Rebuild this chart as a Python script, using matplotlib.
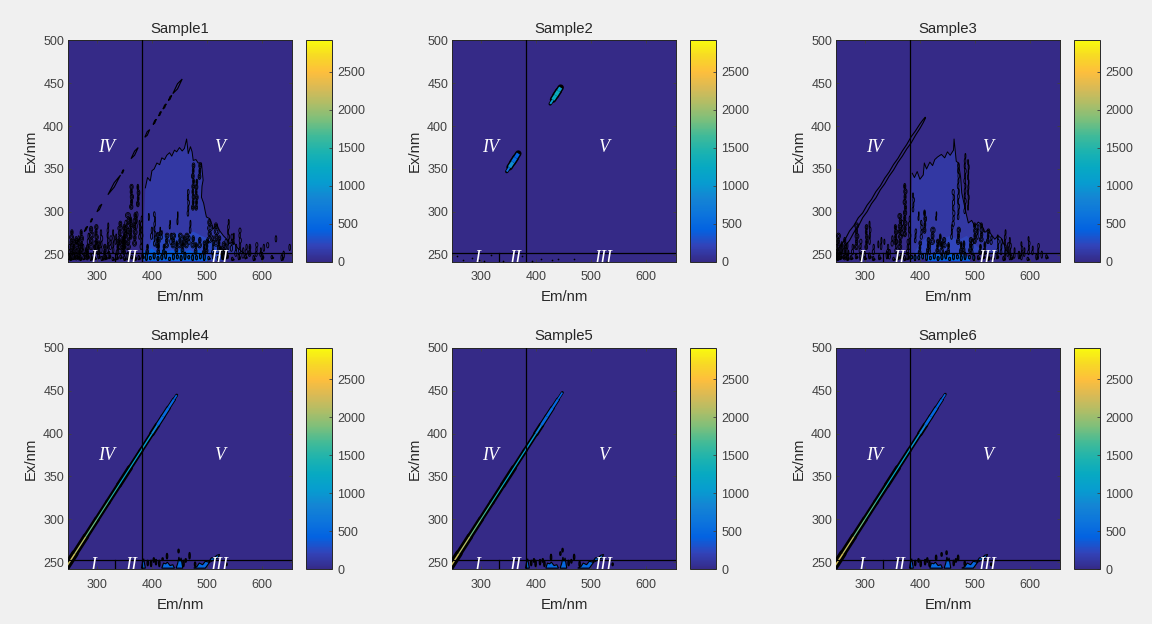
import matplotlib
matplotlib.use('Agg')
import matplotlib.pyplot as plt
from matplotlib.colors import LinearSegmentedColormap, Normalize
from matplotlib.cm import ScalarMappable
from matplotlib.collections import LineCollection
from matplotlib.patches import Ellipse
import numpy as np

plt.rcParams['font.family'] = ['Liberation Sans', 'DejaVu Sans']

W, H = 1152, 624
titles = ['Sample1', 'Sample2', 'Sample3', 'Sample4', 'Sample5', 'Sample6']
x_ticks = [300, 400, 500, 600]
y_ticks = [250, 300, 350, 400, 450, 500]
cbar_ticks = [0, 500, 1000, 1500, 2000, 2500]
parula = [(.2081,.1663,.5292),(.1959,.2645,.7279),(.0117,.3875,.8820),(.0498,.4586,.8641),
          (.0793,.5200,.8312),(.0265,.6137,.8135),(.0267,.6642,.7607),(.1133,.7015,.6859),
          (.2586,.7317,.5954),(.4871,.7491,.4840),(.6834,.7435,.4044),(.8507,.7299,.3360),
          (.9938,.7455,.2403),(.9697,.8481,.1475),(.9763,.9831,.0538)]
cmap = LinearSegmentedColormap.from_list('parula', parula, N=256)
norm = Normalize(0, 2910)

region_labels = [('IV', 318, 375), ('V', 522, 375), ('I', 293, 246), ('II', 362, 246), ('III', 522, 246)]

# hump polygons (Em, Ex) for samples 1 and 3
hump1_em = [383,388,392,397,400,404,409,414,418,423,427,432,436,441,445,450,455,459,463,466,470,473,475,480,484,490,493,491,490,494,497,499,505,512,518,523,530,536,541,548,555,561,565,383]
hump1_ex = [252,328,340,336,348,350,357,355,363,361,366,369,365,372,370,375,371,374,385,368,376,370,360,361,357,357,337,330,317,310,300,294,292,280,285,278,272,268,263,265,258,255,252,252]
hump3_em = [382,386,390,395,400,406,408,412,418,423,427,432,439,445,450,455,461,462,466,470,474,476,480,484,488,494,500,506,512,518,524,530,536,542,548,558,562,382]
hump3_ex = [252,345,340,347,338,343,357,350,358,354,361,364,367,363,370,366,372,385,359,357,340,322,310,298,287,290,283,288,285,276,279,273,268,272,269,254,252,252]
# second contour level inside the hump
mid1_em = [383,400,415,430,445,460,475,490,505,520,530,383]
mid1_ex = [243,268,275,272,276,270,277,272,268,262,243,243]
mid3_em = [383,398,412,426,440,455,470,485,500,515,383]
mid3_ex = [243,262,270,264,268,272,267,272,262,254,243]

# low-level bright patches near the bottom for samples 1 and 3
low1_em = [385,392,398,405,412,420,428,436,444,452,460,468,476,484,492,500]
low1_ex = [256,252,258,255,252,258,254,256,253,258,254,256,253,256,253,248]
low3_em = [410,420,430,438,447,455,464,472,480,490]
low3_ex = [248,250,252,249,251,253,250,252,249,248]

# contour islands: centre Em, lower Ex, upper Ex, Em width
s1_em = [254,263,272,290,299,308,320,330,342,357,369,363,375,381,405,427,439,451,463,475,487,466,475,487,481,505,517,539,560,578,590,611,626,651,
         418,433,447,458,470,350,314,283,268,395,415,530,549,258,275,296,338,350,392,412,445,495,525,
         250,267,280,285,303,325,335,347,352,362,372,378,400,410,422,435,456,468,480,500,511,522,534,545,553,566,572,598,604,640]
s1_lo = [244,244,252,256,256,252,252,252,256,256,260,303,306,256,260,258,258,258,258,258,258,295,302,338,302,264,260,256,252,248,248,258,265,255,
         268,280,285,262,275,262,244,244,244,290,272,245,262,250,250,250,250,250,250,250,252,250,250,
         244,262,248,262,250,256,262,252,270,268,280,268,268,258,250,262,252,262,250,252,250,255,250,254,248,246,250,248,254,246]
s1_hi = [279,271,279,283,285,279,287,279,289,299,299,332,332,295,300,275,275,275,275,272,270,326,357,357,338,291,287,291,281,262,264,264,272,262,
         278,290,300,272,290,285,262,262,262,298,282,265,275,268,262,266,268,272,262,270,266,266,260,
         262,272,258,275,266,272,274,268,290,294,300,290,282,276,262,275,265,272,264,268,272,272,268,274,262,258,262,258,262,254]
s1_w = [7,7,6,9,6,4,3,3,8,9,7,6,5,4,3,7,7,7,7,7,7,3,5,5,5,9,9,3,4,5,4,4,3,3,3,2,2,6,3,7,5,5,5,2,2,6,2,5,4,4,5,5,5,5,5,5,5,
        4,4,5,4,5,4,3,5,4,5,4,3,4,5,5,4,5,4,5,5,4,5,4,4,4,4,4,3,3,3]

s3_em = [252,264,285,303,309,336,350,364,373,381,409,423,444,461,470,482,488,500,512,524,542,555,564,585,598,615,392,440,470,492,
         345,356,398,430,325,300,270,258,278,400,415,432,452,480,510,
         248,268,292,316,330,342,357,368,378,388,403,418,437,458,475,495,505,518,530,548,560,572,590,605,622]
s3_lo = [244,244,256,256,262,262,260,256,271,256,275,262,258,283,291,298,302,263,265,263,252,244,244,244,250,246,264,250,262,252,
         245,262,290,290,258,246,244,250,250,250,252,252,250,252,250,
         244,250,252,250,256,250,252,272,250,300,268,250,260,268,250,250,268,250,262,250,248,246,248,250,246]
s3_hi = [275,270,287,285,289,268,272,298,333,295,302,282,270,326,357,368,361,287,287,280,273,279,270,265,271,263,280,265,282,270,
         256,285,300,300,266,254,255,265,262,266,270,268,264,266,262,
         262,264,268,262,270,262,268,290,268,322,290,264,274,285,265,268,285,265,272,268,264,258,258,260,254]
s3_w = [7,6,7,5,3,2,4,7,6,4,5,8,9,4,3,3,2,6,7,5,3,3,3,3,3,3,3,7,6,6,4,6,2,2,2,3,3,5,4,5,5,5,5,5,5,
        4,4,4,4,3,4,4,4,4,3,4,4,5,3,5,4,3,5,4,3,3,3,3,3,3]

# bottom band of tiny contour islands (Ex about 243-252)
band1_em = [252,258,264,270,276,283,289,296,303,309,316,322,329,336,343,350,356,363,369,376,383,390,397,404,411,418,425,432,439,446,453,460,467,474,481,488,495,503,511,520,528,536,546,558,570,585,600,618,636]
band3_em = [250,255,261,268,275,284,292,300,308,315,326,340,352,360,366,372,378,385,391,398,405,412,419,426,433,440,447,454,461,468,475,482,490,498,506,515,524,532,540,552,566,580,596,612,630]

# main ridge dashes, sample 1 (start Em, end Em, half-width)
dash1_lo = [262,277,288,300,320,345,362,387,402,412,420,430,438]
dash1_hi = [270,283,292,309,343,349,375,396,408,417,426,436,455]
dash1_hw = [1.6,1.6,1.6,2.0,2.6,1.6,2.4,2.2,1.6,1.6,1.6,1.6,3.0]

# thin ridge, sample 3
ridge3_em = [248,256,264,272,280,288,296,304,312,320,328,336,344,352,360,368,376,384,392,400,406,410]
ridge3_hw = [3.5,5.0,3.8,5.5,4.0,5.0,2.8,3.8,2.5,3.6,2.3,3.2,2.4,3.2,2.3,3.0,2.6,3.6,2.6,2.6,1.8,0.6]

# sample 2 ridge fragments
frag2_em = [[347,352,358,363,368], [426,431,436,441,445]]
frag2_val = [[600,900,550,450,400], [1050,1250,1300,1100,800]]
frag2_wid = [3.5, 6.5, 7.0, 6.5, 4.0]

# strong ridges, samples 4-6
ridge_em = [[244,260,280,300,320,340,360,380,400,410,420,430,440,445],
            [244,260,280,300,320,340,360,380,400,410,420,430,440,448],
            [244,260,280,300,320,340,360,380,400,410,420,430,440,446]]
ridge_val = [[2200,2100,1800,1700,1500,1150,1150,1050,850,520,520,480,430,200],
             [2200,2100,1800,1650,1450,1150,1150,1000,800,520,520,480,430,200],
             [2250,2150,1800,1700,1500,1200,1150,1000,800,520,480,430,400,200]]
ridge_wid = [7.5,6.6,6.0,5.6,5.6,6.0,5.0,4.8,5.6,5.0,4.8,4.0,3.0,1.4]
ridge_core = [.2,.2,.2,.2,.2,.2,.25,.3,.35,.55,.55,.55,.55,.3]

# bottom blue patches, samples 4-6 (Em, Ex pairs, each closed to Ex 243)
patch_em = [[381,383,385,388], [418,421,425,428,433,438,441], [444,447,449,451,453,456], [476,482,486,492,497,503,508,513,518,523,520,514,505,497]]
patch_ex = [[243,250,254,243], [243,249,248,250,246,247,243], [243,249,256,251,255,243], [243,245,249,247,251,250,255,255,258,259,255,253,250,243]]
blob4_em = [393,399,404,408,414,420,428,449,458,462,469,479,536]
blob4_lo = [246,245,250,247,245,252,254,261,245,250,254,245,246]
blob4_hi = [252,252,255,253,252,255,260,265,252,254,261,250,249]
blob5_em = [392,397,400,408,413,416,428,445,449,460,465,470,480,540]
blob5_lo = [246,250,245,247,250,245,252,258,262,246,249,253,245,246]
blob5_hi = [252,254,252,253,254,251,259,262,266,252,253,259,251,249]
blob6_em = [392,398,402,410,414,418,430,440,449,462,466,470,482,530]
blob6_lo = [246,250,245,247,250,245,252,257,259,246,250,252,246,246]
blob6_hi = [252,254,252,253,255,251,258,261,263,252,254,258,251,249]
spec2_em = [256,268,283,296,305,318,340,375,392,410,430,440,470,530]
spec2_ex = [248,244,246,244,243,250,243,249,243,245,244,245,245,243]


def blobs(ax, ems, los, his, wids=None, lw=0.6):
    for i, (e, lo, hi) in enumerate(zip(ems, los, his)):
        w = wids[i] if wids else 2.5
        n = max(1, int(round((hi - lo) / 6)))
        cy = lo + (np.arange(n) + .5) * (hi - lo) / n
        for j, y in enumerate(cy):
            ww = w * (1.0 if j % 2 == 0 else .65)
            ax.add_patch(Ellipse((e + (j % 3 - 1) * .6, y), ww, (hi - lo) / n * 1.05, fc='none', ec='k', lw=lw, zorder=3))
            if w >= 5:
                ax.add_patch(Ellipse((e + (j % 3 - 1) * .6, y), ww * .45, (hi - lo) / n * .6, fc='none', ec='k', lw=lw, zorder=3))


def band(ax, ems, colored):
    for i, e in enumerate(ems):
        h = [6, 9, 4, 7, 5][i % 5]
        lo = 243 + (i % 3)
        if colored and 385 <= e <= 500:
            ax.add_patch(Ellipse((e, lo + h / 2), 4, h, fc=cmap(norm(520)), ec='k', lw=0.5, zorder=3))
        ax.add_patch(Ellipse((e, lo + h / 2), 3, h, fc='none', ec='k', lw=0.7, zorder=3))
        if e < 385 or e > 500:
            ax.add_patch(Ellipse((e + 2, lo + h * .3), 3.5, h * .5, fc='k', ec='k', lw=0.3, zorder=3))


def ridge_lines(ax, ems, vals, wid_px, core):
    ems = np.array(ems, float)
    pts = np.column_stack([ems, ems])
    segs = np.stack([pts[:-1], pts[1:]], axis=1)
    wid = np.array(wid_px, float) * 0.72
    ax.add_collection(LineCollection(segs, colors='k', linewidths=wid[:-1], capstyle='round', zorder=4))
    ax.add_collection(LineCollection(segs, cmap=cmap, norm=norm, array=np.array(vals[:-1], float),
                                     linewidths=np.maximum(wid[:-1] * np.array(core[:-1]), .35), zorder=5))


fig = plt.figure(figsize=(W / 100, H / 100), dpi=100, facecolor='#F0F0F0')
base = cmap(0.0)
for i, t in enumerate(titles):
    r, c = divmod(i, 3)
    l = 68.3 + 384 * c
    top = 40.5 + 307.5 * r
    ax = fig.add_axes([l / W, 1 - (top + 221) / H, 223.4 / W, 221 / H], facecolor=base)
    ax.set_xlim(248, 654)
    ax.set_ylim(242, 500)
    ax.set_title(t, fontsize=10.7, color='#262626', pad=5.5, fontweight='normal')
    ax.set_xlabel('Em/nm', fontsize=10.7, color='#262626', labelpad=5)
    ax.set_ylabel('Ex/nm', fontsize=10.7, color='#262626', labelpad=4)
    ax.set_xticks(x_ticks)
    ax.set_yticks(y_ticks)
    ax.tick_params(direction='in', length=2.2, width=0.6, labelsize=9, colors='#404040',
                   top=True, right=True, pad=3)
    ax.tick_params(axis='x', pad=7)
    for s in ax.spines.values():
        s.set_linewidth(0.7)
        s.set_color('#262626')

    if i == 0:
        ax.fill(hump1_em, hump1_ex, color=cmap(norm(120)), lw=0, zorder=1)
        ax.fill(mid1_em, mid1_ex, color=cmap(norm(240)), lw=0, zorder=1)
        ax.plot(hump1_em[1:-1], hump1_ex[1:-1], 'k', lw=0.7, zorder=3)
        ax.fill_between(low1_em, 243, low1_ex, color=cmap(norm(400)), lw=0, zorder=2)
        blobs(ax, s1_em, s1_lo, s1_hi, s1_w)
        band(ax, band1_em, True)
        for a, b, h in zip(dash1_lo, dash1_hi, dash1_hw):
            ax.fill([a, (a + b) / 2, b, (a + b) / 2], [a, (a + b) / 2 + h, b, (a + b) / 2 - h], fc='none', ec='k', lw=0.8, zorder=4)
    elif i == 1:
        for em, v in zip(frag2_em, frag2_val):
            ridge_lines(ax, em, v, frag2_wid, [.55] * 5)
        ax.scatter(spec2_em, spec2_ex, s=1.5, c='k', lw=0, zorder=3)
    elif i == 2:
        ax.fill(hump3_em, hump3_ex, color=cmap(norm(120)), lw=0, zorder=1)
        ax.fill(mid3_em, mid3_ex, color=cmap(norm(220)), lw=0, zorder=1)
        ax.plot(hump3_em[1:-1], hump3_ex[1:-1], 'k', lw=0.7, zorder=3)
        ax.fill_between(low3_em, 243, low3_ex, color=cmap(norm(400)), lw=0, zorder=2)
        blobs(ax, s3_em, s3_lo, s3_hi, s3_w)
        band(ax, band3_em, True)
        em = np.array(ridge3_em, float)
        hw = np.array(ridge3_hw, float)
        ax.fill(np.r_[em, em[::-1]], np.r_[em + hw, (em - hw)[::-1]], fc='none', ec='k', lw=0.8, zorder=4)
    else:
        k = i - 3
        for pe, px in zip(patch_em, patch_ex):
            ax.fill(pe, px, fc=cmap(norm(480)), ec='k', lw=0.8, zorder=3)
        be, bl, bh = [(blob4_em, blob4_lo, blob4_hi), (blob5_em, blob5_lo, blob5_hi), (blob6_em, blob6_lo, blob6_hi)][k]
        blobs(ax, be, bl, bh, None, lw=0.9)
        ridge_lines(ax, ridge_em[k], ridge_val[k], ridge_wid, ridge_core)

    ax.axvline(382, color='k', lw=0.9, zorder=6)
    ax.axhline(252, color='k', lw=0.9, zorder=6)
    ax.plot([332, 332], [242, 252], color='k', lw=0.9, zorder=6)
    for s, ex_, ey in region_labels:
        ax.text(ex_, ey, s, color='w', fontsize=13, family='Liberation Serif', style='italic',
                ha='center', va='center', zorder=7, clip_on=True)

    cax = fig.add_axes([(l + 237.4) / W, 1 - (top + 221) / H, 26 / W, 221 / H])
    cb = fig.colorbar(ScalarMappable(norm=norm, cmap=cmap), cax=cax)
    cb.set_ticks(cbar_ticks)
    cb.ax.tick_params(direction='in', length=2, width=0.6, labelsize=9, colors='#404040', pad=4)
    cb.outline.set_linewidth(0.7)
    cb.outline.set_edgecolor('#262626')

fig.savefig('out.png', dpi=100, facecolor=fig.get_facecolor())
